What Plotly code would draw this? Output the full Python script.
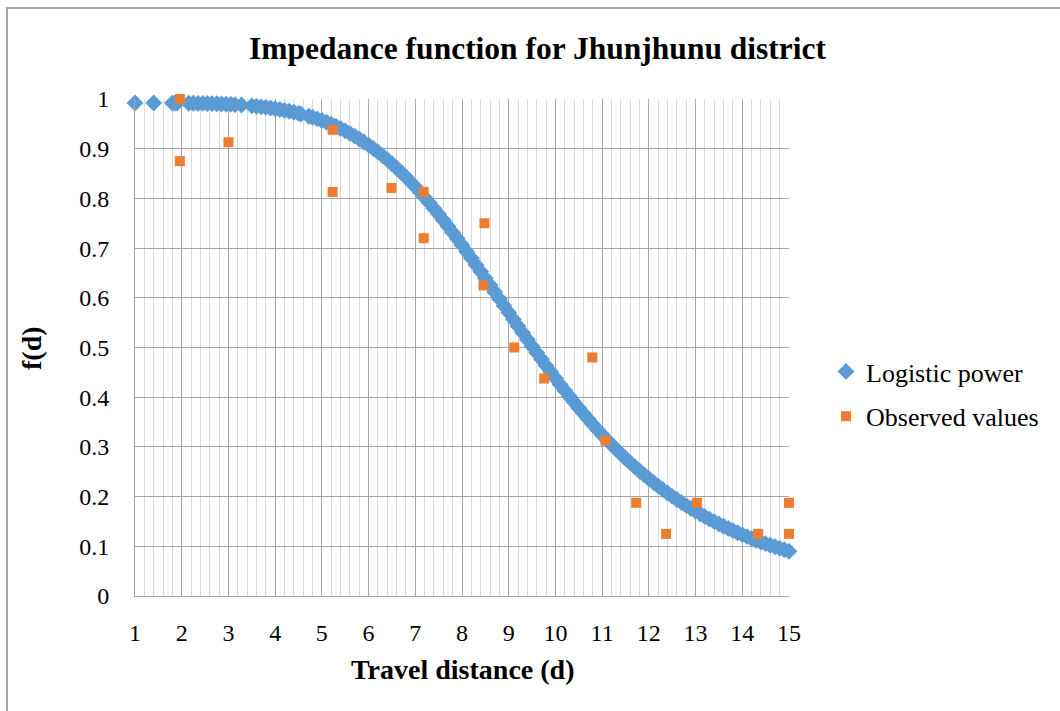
import plotly.graph_objects as go

# Logistic power curve
logistic_d = [1.0, 1.4, 1.8, 1.85, 1.9, 2.15, 2.25, 2.35, 2.45, 2.55, 2.65, 2.75, 2.85, 2.95, 3.05, 3.14,
              3.28, 3.5, 3.6, 3.7, 3.8, 3.9, 4.0, 4.1, 4.2, 4.3, 4.4, 4.5, 4.55, 4.72,
              4.8, 4.9, 5.0, 5.1, 5.2, 5.3, 5.4, 5.5, 5.6, 5.7, 5.8, 5.9, 6.0, 6.1, 6.2, 6.3, 6.4, 6.5,
              6.6, 6.7, 6.8, 6.9, 7.0, 7.1, 7.2, 7.3, 7.4, 7.5, 7.6, 7.7, 7.8, 7.9, 8.0, 8.1, 8.2, 8.3,
              8.4, 8.5, 8.6, 8.7, 8.8, 8.9, 9.0, 9.1, 9.2, 9.3, 9.4, 9.5, 9.6, 9.7, 9.8, 9.9, 10.0,
              10.1, 10.2, 10.3, 10.4, 10.5, 10.6, 10.7, 10.8, 10.9, 11.0, 11.1, 11.2, 11.3, 11.4, 11.5,
              11.6, 11.7, 11.8, 11.9, 12.0, 12.1, 12.2, 12.3, 12.4, 12.5, 12.6, 12.7, 12.8, 12.9, 13.0,
              13.1, 13.2, 13.3, 13.4, 13.5, 13.6, 13.7, 13.8, 13.9, 14.0, 14.1, 14.2, 14.3, 14.4, 14.5,
              14.6, 14.7, 14.8, 14.9, 15.0]
logistic_f = [0.992, 0.9919, 0.9918, 0.9918, 0.9918, 0.9915, 0.9914, 0.9912, 0.9911, 0.9908, 0.9906, 0.9903,
              0.9900, 0.9895, 0.9891, 0.9886,
              0.9878, 0.9861, 0.9852, 0.9842, 0.9831, 0.9818, 0.9804, 0.9789, 0.9772, 0.9753, 0.9733, 0.9711,
              0.9699, 0.9654,
              0.9632, 0.9601, 0.9567, 0.9531, 0.9492, 0.9451, 0.9406, 0.9359, 0.9308, 0.9254, 0.9197, 0.9136,
              0.9072, 0.9004, 0.8934, 0.8859, 0.8780, 0.8697,
              0.8611, 0.8522, 0.8429, 0.8332, 0.8232, 0.8127, 0.8020, 0.7910, 0.7796, 0.7680, 0.7561, 0.7439,
              0.7315, 0.7187, 0.7059, 0.6928, 0.6796, 0.6661,
              0.6527, 0.6391, 0.6254, 0.6117, 0.5979, 0.5841, 0.5704, 0.5566, 0.5430, 0.5295, 0.5160, 0.5026,
              0.4893, 0.4763, 0.4633, 0.4506, 0.4380,
              0.4257, 0.4134, 0.4015, 0.3898, 0.3782, 0.3670, 0.3561, 0.3453, 0.3347, 0.3245, 0.3146, 0.3048,
              0.2953, 0.2861, 0.2771,
              0.2683, 0.2599, 0.2516, 0.2437, 0.2359, 0.2283, 0.2211, 0.2140, 0.2071, 0.2005, 0.1941, 0.1879,
              0.1819, 0.1760, 0.1704,
              0.1650, 0.1597, 0.1546, 0.1496, 0.1449, 0.1403, 0.1359, 0.1316, 0.1274, 0.1234, 0.1195, 0.1158,
              0.1122, 0.1087, 0.1054,
              0.1021, 0.0990, 0.0959, 0.0930, 0.0901]

# Observed values
observed_d = [1.96, 1.96, 3.0, 5.23, 5.23, 6.49, 7.18, 7.18, 8.48, 8.46, 9.12, 9.76, 10.79, 11.07,
              11.73, 12.37, 13.03, 14.34, 15.0, 15.0]
observed_f = [1.0, 0.875, 0.913, 0.938, 0.813, 0.821, 0.813, 0.72, 0.75, 0.625, 0.5, 0.4375, 0.48, 0.313,
              0.1875, 0.125, 0.1875, 0.125, 0.1875, 0.125]

x_ticks = list(range(1, 16))
y_ticks = [0, 0.1, 0.2, 0.3, 0.4, 0.5, 0.6, 0.7, 0.8, 0.9, 1]

SERIF = "Liberation Serif, Times New Roman, serif"

fig = go.Figure()
fig.add_trace(go.Scatter(
    x=logistic_d, y=logistic_f, mode="markers", name="Logistic power",
    marker=dict(symbol="diamond", size=13, color="#5b9bd5", line=dict(width=0)),
    cliponaxis=False, legendgroup="a",
))
fig.add_trace(go.Scatter(
    x=observed_d, y=observed_f, mode="markers", name="Observed values",
    marker=dict(symbol="square", size=10, color="#ed7d31", line=dict(width=0)),
    cliponaxis=False, legendgroup="b",
))

L, R, T, B = 135, 271, 99, 115
W, H = 1060, 711
pw, ph = W - L - R, H - T - B

def px(x):
    return (x - L) / pw

def py(y):
    return (H - B - y) / ph

fig.update_layout(
    width=W, height=H,
    margin=dict(l=L, r=R, t=T, b=B),
    paper_bgcolor="white", plot_bgcolor="white",
    font=dict(family=SERIF, size=20, color="black"),
    showlegend=True,
    legend=dict(x=px(826), y=py(394), xanchor="left", yanchor="middle",
                font=dict(family=SERIF, size=26, color="black"),
                tracegroupgap=8, bgcolor="rgba(0,0,0,0)"),
    xaxis=dict(range=[1, 15], tickmode="array", tickvals=x_ticks, ticktext=[str(v) for v in x_ticks],
               showgrid=True, gridcolor="#a6a6a6", gridwidth=1,
               minor=dict(dtick=0.2, showgrid=True, gridcolor="#d9d9d9", gridwidth=1),
               showline=True, linecolor="#a6a6a6", linewidth=1, mirror=False,
               zeroline=False, ticks="", tickfont=dict(family=SERIF, size=24),
               ticklabelstandoff=15),
    yaxis=dict(range=[0, 1], tickmode="array", tickvals=y_ticks, ticktext=[("%g" % v) for v in y_ticks],
               showgrid=True, gridcolor="#a6a6a6", gridwidth=1,
               showline=True, linecolor="#a6a6a6", linewidth=1,
               zeroline=False, ticks="", tickfont=dict(family=SERIF, size=24),
               ticklabelstandoff=20),
    annotations=[
        dict(text="<b>Impedance function for Jhunjhunu district</b>", x=px(538), y=py(48),
             xref="paper", yref="paper", showarrow=False, xanchor="center", yanchor="middle",
             font=dict(family=SERIF, size=31.5, color="black")),
        dict(text="<b>Travel distance (d)</b>", x=px(462), y=py(669),
             xref="paper", yref="paper", showarrow=False, xanchor="center", yanchor="middle",
             font=dict(family=SERIF, size=28, color="black")),
        dict(text="<b>f(d)</b>", x=px(31), y=py(348), textangle=-90,
             xref="paper", yref="paper", showarrow=False, xanchor="center", yanchor="middle",
             font=dict(family=SERIF, size=28, color="black")),
    ],
    shapes=[
        dict(type="rect", xref="paper", yref="paper", x0=px(7), x1=px(1075), y0=py(725), y1=py(8),
             line=dict(color="#a6a6a6", width=2), fillcolor="rgba(0,0,0,0)", layer="below"),
    ],
)

fig.write_html("out.html")
